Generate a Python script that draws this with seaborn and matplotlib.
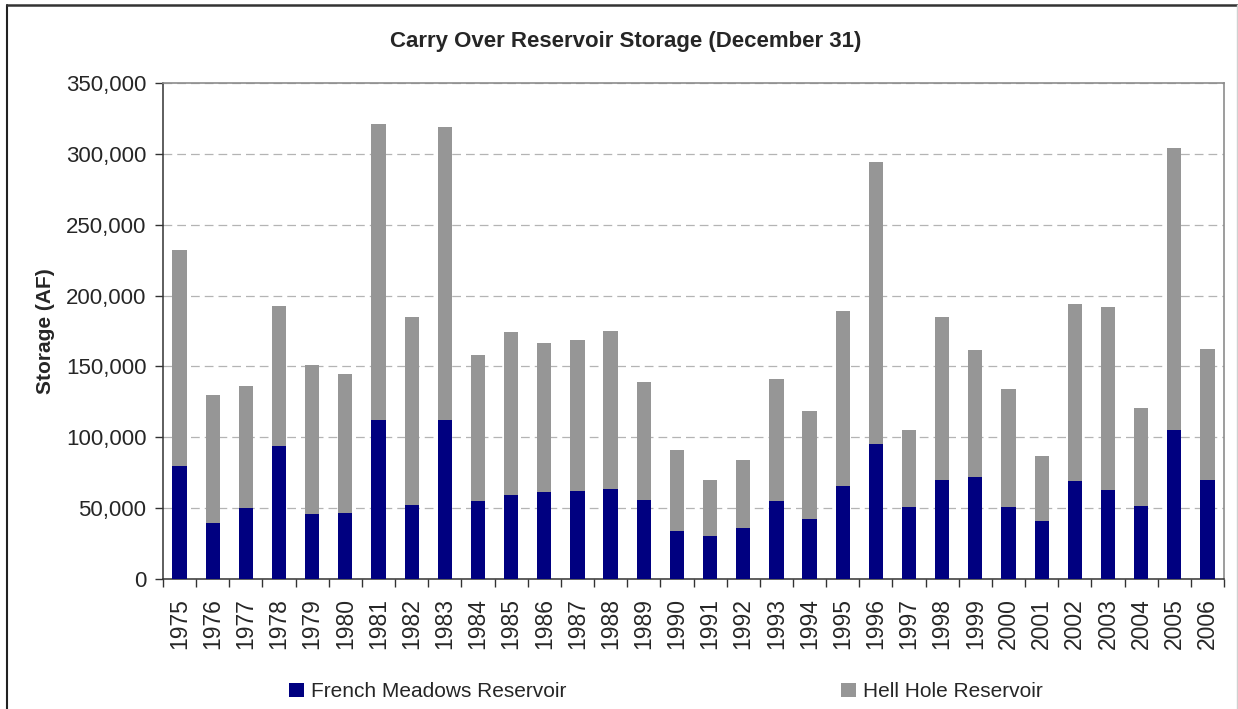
import numpy as np
import pandas as pd
import matplotlib
matplotlib.use("Agg")
import matplotlib.pyplot as plt
import matplotlib.ticker as mticker
from matplotlib.lines import Line2D
from matplotlib.patches import Patch
import seaborn as sns

years = [str(y) for y in range(1975, 2007)]
french_meadows = [79700, 39300, 49900, 93800, 45700, 46400, 112200, 52100, 112200, 54900,
                  59100, 61300, 62000, 63400, 55600, 33600, 30100, 35800, 54900, 42100,
                  65500, 95300, 50600, 69800, 71900, 50600, 40700, 69000, 62700, 51300,
                  105200, 69800]
totals = [232000, 130000, 136300, 192500, 151200, 144800, 321200, 185200, 319000, 158300,
          174600, 166800, 168900, 175300, 139200, 91000, 69800, 83900, 141300, 118600,
          189400, 294300, 105200, 185200, 161800, 134200, 86800, 193700, 191600, 120700,
          304200, 162500]
hell_hole = [t - f for t, f in zip(totals, french_meadows)]
y_ticks = [0, 50000, 100000, 150000, 200000, 250000, 300000, 350000]

title = "Carry Over Reservoir Storage (December 31)"
ylabel = "Storage (AF)"
series_names = ["French Meadows Reservoir", "Hell Hole Reservoir"]
colors = ["#000080", "#969696"]

sns.set_theme(style="white")
plt.rcParams["font.family"] = ["Liberation Sans", "DejaVu Sans"]

df = pd.DataFrame({"year": years, "fm": french_meadows, "hh": hell_hole})
df["stack_top"] = df["fm"] + df["hh"]

fig = plt.figure(figsize=(12.38, 7.09), dpi=100)
ax = fig.add_axes([163 / 1238, 1 - 579 / 709, (1224 - 163) / 1238, (579 - 83) / 709])

bw = 0.43
sns.barplot(data=df, x="year", y="stack_top", color=colors[1], saturation=1,
            width=bw, ax=ax, zorder=3, linewidth=0, edgecolor="none")
sns.barplot(data=df, x="year", y="fm", color=colors[0], saturation=1,
            width=bw, ax=ax, zorder=4, linewidth=0, edgecolor="none")

ax.set_xlim(-0.5, len(years) - 0.5)
ax.set_ylim(0, 350000)
ax.set_yticks(y_ticks)
ax.yaxis.set_major_formatter(mticker.FuncFormatter(lambda v, p: f"{int(v):,}"))
ax.yaxis.grid(True, color="#b4b4b4", linestyle=(0, (7, 4)), linewidth=0.9)
ax.set_axisbelow(True)

ax.set_xlabel("")
ax.set_ylabel(ylabel, fontsize=15, fontweight="bold", labelpad=8)

ax.tick_params(axis="y", which="major", direction="out", length=6, width=1,
               color="#333333", labelsize=16, pad=6, left=True)
ax.set_xticks(range(len(years)))
ax.set_xticklabels(years, rotation=90)
ax.tick_params(axis="x", which="major", length=0, labelsize=16.5, pad=14)
ax.set_xticks(np.arange(-0.5, len(years), 1), minor=True)
ax.tick_params(axis="x", which="minor", direction="out", length=6, width=1,
               color="#333333", bottom=True)

for s in ["left", "bottom"]:
    ax.spines[s].set_color("#333333")
    ax.spines[s].set_linewidth(1.1)
for s in ["top", "right"]:
    ax.spines[s].set_color("#8c8c8c")
    ax.spines[s].set_linewidth(1.2)

fig.text(0.505, 1 - 42 / 709, title, ha="center", va="center",
         fontsize=16, fontweight="bold")

handles = [Patch(facecolor=colors[0], edgecolor="none"),
           Patch(facecolor=colors[1], edgecolor="none")]
fig.legend(handles, series_names, loc="center", bbox_to_anchor=(0.538, 0.024),
           ncol=2, frameon=False, fontsize=15, handlelength=0.7, handleheight=0.7,
           handletextpad=0.35, columnspacing=13.2)

# outer chart border
fig.add_artist(Line2D([7 / 1238, 7 / 1238], [0, 1 - 5 / 709], transform=fig.transFigure,
                      color="#222222", linewidth=1.5))
fig.add_artist(Line2D([7 / 1238, 1237 / 1238], [1 - 5 / 709, 1 - 5 / 709],
                      transform=fig.transFigure, color="#333333", linewidth=1.8))
fig.add_artist(Line2D([1236.5 / 1238, 1236.5 / 1238], [0, 1 - 5 / 709],
                      transform=fig.transFigure, color="#d0d0d0", linewidth=1.0))

fig.savefig("out.png", dpi=100)
